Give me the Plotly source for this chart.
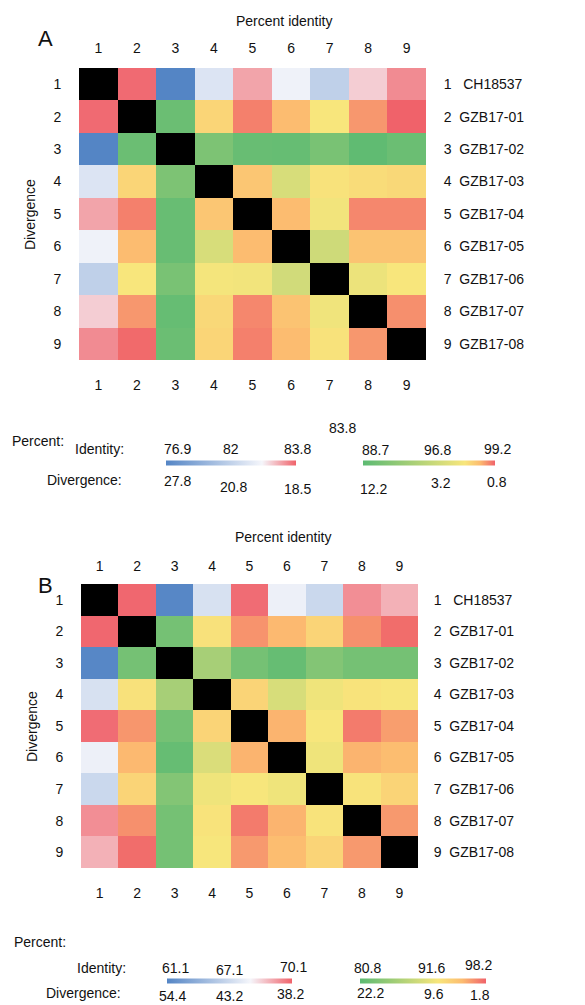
import plotly.graph_objects as go

# ---------------- data ----------------
idx = [1, 2, 3, 4, 5, 6, 7, 8, 9]
strains = ["CH18537", "GZB17-01", "GZB17-02", "GZB17-03", "GZB17-04",
           "GZB17-05", "GZB17-06", "GZB17-07", "GZB17-08"]

# panel A: percent identity per cell (diagonal = 100)
ident_A = [
    [100.0, 83.7, 76.9, 81.2, 83.0, 81.8, 80.3, 82.5, 83.3],
    [83.7, 100.0, 89.5, 97.3, 98.8, 98.0, 96.8, 98.5, 99.2],
    [76.9, 89.5, 100.0, 90.4, 89.3, 89.2, 90.2, 88.9, 89.5],
    [81.2, 97.3, 90.4, 100.0, 97.7, 95.1, 96.9, 97.1, 97.2],
    [83.0, 98.8, 89.3, 97.7, 100.0, 98.0, 96.5, 98.7, 98.7],
    [81.8, 98.0, 89.3, 95.1, 98.0, 100.0, 94.6, 97.8, 97.8],
    [80.3, 96.8, 90.2, 96.6, 96.5, 94.8, 100.0, 96.2, 96.8],
    [82.5, 98.5, 89.2, 97.2, 98.7, 97.8, 96.4, 100.0, 98.6],
    [83.3, 99.1, 89.5, 97.3, 98.8, 98.0, 96.9, 98.5, 100.0],
]

# panel B: percent identity per cell (diagonal = 100)
ident_B = [
    [100.0, 70.0, 61.2, 66.0, 69.9, 66.8, 65.5, 69.2, 68.5],
    [70.0, 100.0, 82.5, 92.0, 96.4, 95.0, 93.0, 96.5, 97.8],
    [61.2, 82.5, 100.0, 86.0, 82.5, 81.5, 83.5, 82.5, 82.5],
    [66.0, 92.0, 86.0, 100.0, 93.0, 89.3, 91.0, 91.8, 91.5],
    [69.9, 96.3, 82.5, 93.0, 100.0, 95.2, 91.5, 97.3, 96.0],
    [66.8, 95.0, 81.5, 89.5, 95.2, 100.0, 91.0, 95.2, 94.8],
    [65.5, 93.0, 83.5, 91.0, 91.5, 91.0, 100.0, 91.8, 93.0],
    [69.2, 96.5, 82.5, 91.8, 97.3, 95.2, 91.8, 100.0, 96.2],
    [68.5, 97.8, 82.5, 91.5, 96.2, 94.8, 93.0, 96.2, 100.0],
]

# colour-key tick labels
A_low_ident = ["76.9", "82", "83.8"]
A_high_ident = ["88.7", "96.8", "99.2"]
A_low_div = ["27.8", "20.8", "18.5"]
A_high_div = ["12.2", "3.2", "0.8"]
A_low_range = [76.9, 82.0, 83.8]
A_high_range = [88.7, 96.8, 99.2]

B_low_ident = ["61.1", "67.1", "70.1"]
B_high_ident = ["80.8", "91.6", "98.2"]
B_low_div = ["54.4", "43.2", "38.2"]
B_high_div = ["22.2", "9.6", "1.8"]
B_low_range = [61.1, 67.1, 70.1]
B_high_range = [80.8, 91.6, 98.2]

# ---------------- styling ----------------
PAGE_W, PAGE_H = 585, 1005
OFF = 8  # default page body margin
W, H = PAGE_W - OFF, PAGE_H - OFF
FONT = "Liberation Sans, Arial, Helvetica, sans-serif"
BLUE, WHITE, RED = "#5485c5", "#f5f6fb", "#f0626a"
GREEN, YELLOW, ORANGE = "#5cba72", "#f8e67c", "#fcbc70"


def px(x):
    return (x - OFF) / W


def py(y):
    return 1 - (y - OFF) / H


def low_scale(r):
    m = (r[1] - r[0]) / (r[2] - r[0])
    return [[0, BLUE], [m, WHITE], [1, RED]]


def high_scale(r):
    m = (r[1] - r[0]) / (r[2] - r[0])
    return [[0, GREEN], [m, YELLOW], [m + (1 - m) * 0.5, ORANGE], [1, RED]]


fig = go.Figure()


def cbar(c):
    return dict(orientation="h", x=px(c[0]), xanchor="left",
                y=py(c[2]), yanchor="middle", len=(c[1] - c[0]) / W,
                lenmode="fraction", thickness=5, outlinewidth=0,
                showticklabels=False, ticks="", xpad=0, ypad=0)


def add_panel(mat, lo, hi, xa, ya, xa2, ya2, cb_lo, cb_hi):
    lo_z = [[v if v <= lo[2] else None for v in row] for row in mat]
    hi_z = [[v if (v >= hi[0] and v < 100) else None for v in row] for row in mat]
    dg_z = [[1 if v >= 100 else None for v in row] for row in mat]
    fig.add_trace(go.Heatmap(
        z=lo_z, x=idx, y=idx, xaxis=xa, yaxis=ya, zmin=lo[0], zmax=lo[2],
        colorscale=low_scale(lo), hoverongaps=False, colorbar=cbar(cb_lo)))
    fig.add_trace(go.Heatmap(
        z=hi_z, x=idx, y=idx, xaxis=xa, yaxis=ya, zmin=hi[0], zmax=hi[2],
        colorscale=high_scale(hi), hoverongaps=False, colorbar=cbar(cb_hi)))
    fig.add_trace(go.Heatmap(
        z=dg_z, x=idx, y=idx, xaxis=xa, yaxis=ya, zmin=0, zmax=1,
        colorscale=[[0, "black"], [1, "black"]], showscale=False, hoverongaps=False))
    # invisible trace so the overlaying (top / right) axes are drawn
    fig.add_trace(go.Scatter(x=idx, y=idx, xaxis=xa2, yaxis=ya2, mode="markers",
                             marker=dict(opacity=0), hoverinfo="skip"))


add_panel(ident_A, A_low_range, A_high_range, "x", "y", "x2", "y2",
          (166, 296, 463), (363, 495, 463))
add_panel(ident_B, B_low_range, B_high_range, "x3", "y3", "x4", "y4",
          (167, 292, 981), (360, 486, 981))

tickfont = dict(family=FONT, size=14, color="#111")
common = dict(showgrid=False, zeroline=False, showline=False, ticks="outside",
              tickcolor="rgba(0,0,0,0)", tickfont=tickfont, fixedrange=True)


def axes(xd, yd, top_len, bot_len, left_len, right_len, right_labels):
    xr = [0.5, 9.5]
    yr = [9.5, 0.5]
    xb = dict(domain=xd, range=xr, tickvals=idx, ticktext=[str(i) for i in idx],
              side="bottom", ticklen=bot_len, **common)
    xt = dict(domain=xd, range=xr, tickvals=idx, ticktext=[str(i) for i in idx],
              side="top", ticklen=top_len, **common)
    yl = dict(domain=yd, range=yr, tickvals=idx, ticktext=[str(i) for i in idx],
              side="left", ticklen=left_len, **common)
    yr_ = dict(domain=yd, range=yr, tickvals=idx, ticktext=right_labels,
               side="right", ticklen=right_len, **common)
    return xb, xt, yl, yr_


NB = "\u00a0"
labA = [f"{i}{NB * 2}{NB if i == 1 else ''}{s}" for i, s in zip(idx, strains)]
labB = [f"{i}{NB * 2}{NB if i == 1 else ''}{s}" for i, s in zip(idx, strains)]

xA, xA2, yA, yA2 = axes([px(79), px(426)], [py(360), py(68)], 8, 12, 14, 14, labA)
xB, xB2, yB, yB2 = axes([px(81), px(418)], [py(868), py(584)], 6, 12, 14, 12, labB)

xA2.update(overlaying="x", anchor="y")
yA2.update(overlaying="y", anchor="x")
xB.update(anchor="y3")
yB.update(anchor="x3")
xB2.update(overlaying="x3", anchor="y3")
yB2.update(overlaying="y3", anchor="x3")

ann = []


def txt(x, y, t, size=14, xanchor="center", angle=0):
    ann.append(dict(x=px(x), y=py(y), xref="paper", yref="paper", text=t,
                    showarrow=False, xanchor=xanchor, yanchor="middle",
                    textangle=angle, font=dict(family=FONT, size=size, color="#111")))


# panel A titles
txt(45, 38, "A", size=22)
txt(284, 21, "Percent identity")
txt(30, 215, "Divergence", angle=-90)
# panel A key
txt(342, 428, A_low_ident[2])
txt(10, 441, "Percent:", xanchor="left")
txt(73, 449, "Identity:", xanchor="left")
txt(45, 480, "Divergence:", xanchor="left")
for (x, y), t in zip([(177, 449), (231, 449), (297, 449)], A_low_ident):
    txt(x, y, t)
for (x, y), t in zip([(375, 450), (437, 450), (497, 449)], A_high_ident):
    txt(x, y, t)
for (x, y), t in zip([(177, 481), (233, 487), (297, 489)], A_low_div):
    txt(x, y, t)
for (x, y), t in zip([(373, 489), (441, 483), (497, 482)], A_high_div):
    txt(x, y, t)

# panel B titles
txt(45, 585, "B", size=22)
txt(283, 537, "Percent identity")
txt(32, 727, "Divergence", angle=-90)
# panel B key
txt(12, 942, "Percent:", xanchor="left")
txt(75, 968, "Identity:", xanchor="left")
txt(44, 993, "Divergence:", xanchor="left")
for (x, y), t in zip([(175, 968), (230, 970), (293, 967)], B_low_ident):
    txt(x, y, t)
for (x, y), t in zip([(367, 968), (431, 968), (478, 965)], B_high_ident):
    txt(x, y, t)
for (x, y), t in zip([(172, 996), (230, 996), (290, 994)], B_low_div):
    txt(x, y, t)
for (x, y), t in zip([(370, 993), (434, 994), (480, 995)], B_high_div):
    txt(x, y, t)

fig.update_layout(
    width=W, height=H, margin=dict(l=0, r=0, t=0, b=0),
    paper_bgcolor="white", plot_bgcolor="white",
    xaxis=xA, xaxis2=xA2, yaxis=yA, yaxis2=yA2,
    xaxis3=xB, xaxis4=xB2, yaxis3=yB, yaxis4=yB2,
    annotations=ann, showlegend=False,
)

fig.write_html("out.html")
